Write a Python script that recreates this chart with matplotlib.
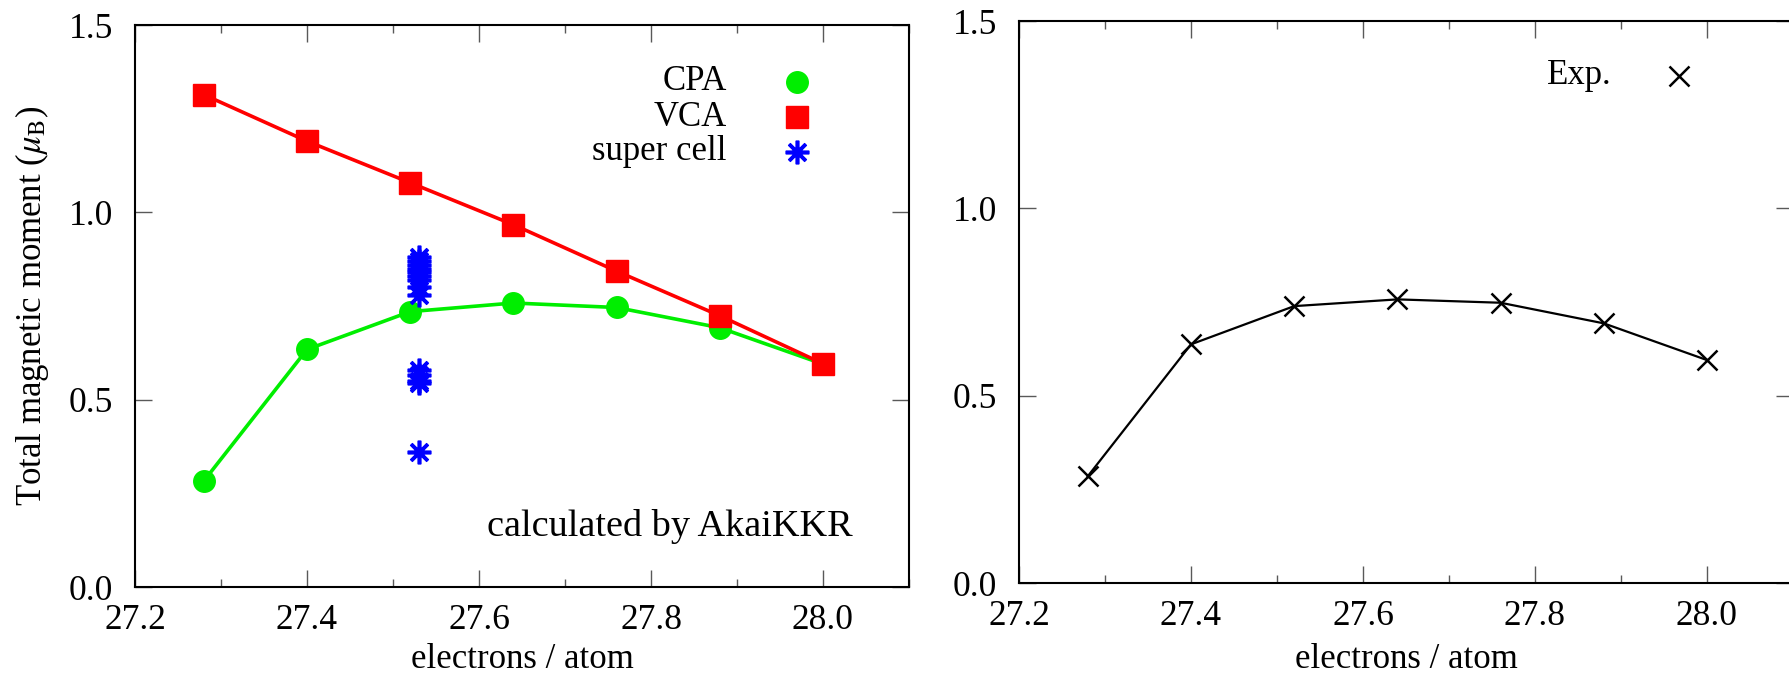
import matplotlib
matplotlib.use("Agg")
import matplotlib.pyplot as plt
from matplotlib.ticker import MultipleLocator

# ---------------- data ----------------
electrons = [27.28, 27.40, 27.52, 27.64, 27.76, 27.88, 28.00]
cpa = [0.283, 0.634, 0.735, 0.758, 0.746, 0.692, 0.595]
vca = [1.314, 1.190, 1.079, 0.967, 0.843, 0.724, 0.596]
super_x = [27.53] * 14
super_y = [0.88, 0.87, 0.86, 0.85, 0.84, 0.83, 0.82, 0.80, 0.78,
           0.58, 0.565, 0.55, 0.545, 0.36]
exp = [0.285, 0.637, 0.739, 0.757, 0.748, 0.693, 0.595]

xlim = (27.2, 28.1)
ylim = (0.0, 1.5)
xticks = [27.2, 27.4, 27.6, 27.8, 28.0]
yticks = [0.0, 0.5, 1.0, 1.5]
xlabel = "electrons / atom"
ylabel = r"Total magnetic moment ($\mu_{\mathrm{B}}$)"

SERIF = ['Liberation Serif', 'DejaVu Serif']
plt.rcParams['font.family'] = SERIF
plt.rcParams['font.serif'] = SERIF
plt.rcParams['mathtext.fontset'] = 'stix'

W, H = 1789, 676
fig = plt.figure(figsize=(W / 100, H / 100), dpi=100)

def box(l, r, t, b):
    return [l / W, 1 - b / H, (r - l) / W, (b - t) / H]

L1 = (135, 909, 25, 587)
L2 = (1019, 1793, 21, 583)
ax1 = fig.add_axes(box(*L1))
ax2 = fig.add_axes(box(*L2))

GREEN = '#00ee00'
RED = '#ff0000'
BLUE = '#0000ff'
STAR = (8, 2, 0)

ax1.plot(electrons, cpa, color=GREEN, lw=2.6, marker='o', ms=15.5, mec=GREEN, mfc=GREEN, zorder=3)
ax1.plot(electrons, vca, color=RED, lw=2.6, marker='s', ms=15.5, mec=RED, mfc=RED, zorder=3)
ax1.plot(super_x, super_y, ls='none', marker=STAR, ms=17, mew=2.6, color=BLUE, zorder=4)

ax2.plot(electrons, exp, color='black', lw=1.6, marker='x', ms=15, mew=1.8, zorder=3)

for ax in (ax1, ax2):
    ax.set_xlim(*xlim)
    ax.set_ylim(*ylim)
    ax.set_xticks(xticks)
    ax.set_yticks(yticks)
    ax.xaxis.set_minor_locator(MultipleLocator(0.1))
    ax.tick_params(which='both', direction='in', top=True, right=True,
                   color='0.35', width=1.0, labelsize=25.5, labelcolor='black')
    ax.tick_params(which='major', length=12)
    ax.tick_params(which='minor', length=6)
    ax.tick_params(axis='x', pad=12)
    ax.tick_params(axis='y', pad=16)
    ax.set_xticklabels([f"{v:.1f}" for v in xticks], fontfamily=SERIF)
    ax.set_yticklabels([f"{v:.1f}" for v in yticks], fontfamily=SERIF)
    for s in ax.spines.values():
        s.set_linewidth(1.5)
        s.set_color('black')
    ax.set_xlabel(xlabel, fontsize=25, va='center', fontfamily=SERIF)

ax1.xaxis.set_label_coords(0.5, (L1[3] - 660) / (L1[3] - L1[2]))
ax2.xaxis.set_label_coords(0.5, (L2[3] - 660) / (L2[3] - L2[2]))
ax1.set_ylabel(ylabel, fontsize=25, va='center', fontfamily=SERIF)
ax1.yaxis.set_label_coords((32 - L1[0]) / (L1[1] - L1[0]), 0.5)

def ax_frac(px, py, L):
    l, r, t, b = L
    return ((px - l) / (r - l), (b - py) / (b - t))

# gnuplot-style key (left panel)
key_items = [("CPA", dict(marker='o', ms=15.5, color=GREEN, ls='none')),
             ("VCA", dict(marker='s', ms=15.5, color=RED, ls='none')),
             ("super cell", dict(marker=STAR, ms=17, mew=2.6, color=BLUE, ls='none'))]
key_y = [82, 117, 152]
for (lab, kw), py in zip(key_items, key_y):
    tx, ty = ax_frac(727, py, L1)
    mx, _ = ax_frac(797, py, L1)
    ax1.text(tx, ty, lab, transform=ax1.transAxes, ha='right', va='center', fontsize=25)
    ax1.plot([mx], [ty], transform=ax1.transAxes, clip_on=False, **kw)

tx, ty = ax_frac(853, 527, L1)
ax1.text(tx, ty, "calculated by AkaiKKR", transform=ax1.transAxes,
         ha='right', va='center', fontsize=27.5)

# key (right panel)
tx, ty = ax_frac(1612, 76, L2)
mx, _ = ax_frac(1679, 76, L2)
ax2.text(tx, ty, "Exp.", transform=ax2.transAxes, ha='right', va='center', fontsize=25)
ax2.plot([mx], [ty], transform=ax2.transAxes, marker='x', ms=15, mew=1.8,
         color='black', ls='none', clip_on=False)

fig.savefig("out.png", dpi=100)

# sanity check: tick labels must use the serif face
from matplotlib import font_manager
for lbl in ax1.get_xticklabels() + ax1.get_yticklabels():
    f = font_manager.findfont(lbl.get_fontproperties())
    if 'Serif' not in f:
        raise SystemExit("tick font is " + f)
